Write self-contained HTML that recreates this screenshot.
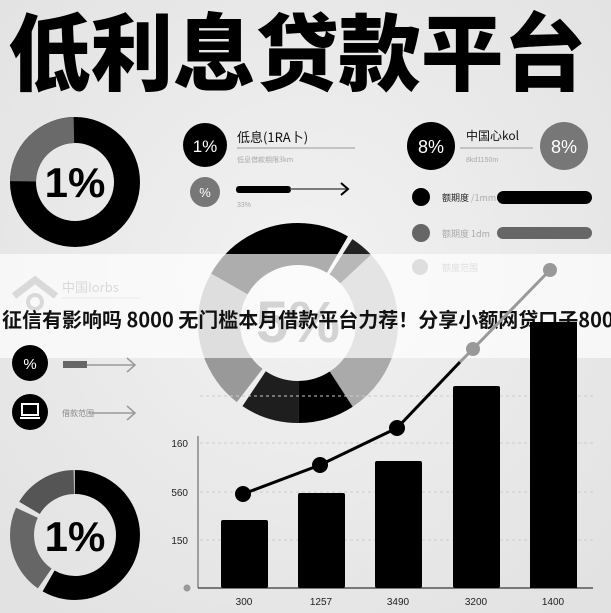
<!DOCTYPE html>
<html><head><meta charset="utf-8"><style>
html,body{margin:0;padding:0;width:611px;height:613px;overflow:hidden;background:#ebebeb}
svg{display:block}
text{font-family:"Liberation Sans","Noto Sans CJK SC",sans-serif}
.cjk{font-family:"Noto Sans CJK SC","WenQuanYi Zen Hei",sans-serif}
</style></head><body>
<svg width="611" height="613" viewBox="0 0 611 613" xmlns="http://www.w3.org/2000/svg">
<defs><radialGradient id="bg" cx="50%" cy="45%" r="70%"><stop offset="0" stop-color="#f2f2f2"/><stop offset="1" stop-color="#e2e2e2"/></radialGradient></defs>
<rect width="611" height="613" fill="url(#bg)"/>
<text x="297" y="84" text-anchor="middle" class="cjk" font-size="84" font-weight="900" fill="#000" textLength="578" lengthAdjust="spacingAndGlyphs">低利息贷款平台</text>

<!-- TL donut -->
<g transform="translate(75,182) rotate(-90)">
<circle r="52" fill="none" stroke="#000" stroke-width="26"/>
<circle r="52" fill="none" stroke="#6a6a6a" stroke-width="26" pathLength="360" stroke-dasharray="88 272" stroke-dashoffset="-271"/>
</g>
<text x="75" y="197" text-anchor="middle" font-size="42" font-weight="bold" fill="#000">1%</text>

<!-- top middle -->
<circle cx="205" cy="145" r="22" fill="#000"/>
<text x="205" y="152" text-anchor="middle" font-size="17" fill="#fff">1%</text>
<text x="237" y="142" class="cjk" font-size="13" fill="#111">低息(1RA卜)</text>
<line x1="237" y1="148" x2="355" y2="148" stroke="#999" stroke-width="1"/>
<text x="237" y="162" class="cjk" font-size="7" fill="#aaa">低息借款期限3km</text>
<circle cx="205" cy="192" r="15" fill="#777"/>
<text x="205" y="197" text-anchor="middle" font-size="13" fill="#fff">%</text>
<rect x="236" y="186" width="55" height="7" rx="3" fill="#000"/>
<line x1="290" y1="189" x2="348" y2="189" stroke="#555" stroke-width="1.5"/>
<polyline points="341,183 348,189 341,195" fill="none" stroke="#000" stroke-width="2"/>
<text x="237" y="207" font-size="7" fill="#aaa">33%</text>

<!-- top right -->
<circle cx="431" cy="146" r="24" fill="#000"/>
<text x="431" y="153" text-anchor="middle" font-size="18" fill="#fff">8%</text>
<text x="466" y="140" class="cjk" font-size="12" fill="#111">中国心kol</text>
<line x1="460" y1="148" x2="533" y2="148" stroke="#999"/>
<text x="466" y="162" font-size="7" fill="#aaa">8kd1150m</text>
<circle cx="564" cy="146" r="24" fill="#777"/>
<text x="564" y="153" text-anchor="middle" font-size="18" fill="#fff">8%</text>

<circle cx="421" cy="197" r="9" fill="#000"/>
<text x="442" y="201" class="cjk" font-size="9" fill="#222">额期度 <tspan fill="#aaa">/1mm</tspan></text>
<rect x="497" y="191" width="95" height="13" rx="6.5" fill="#000"/>
<circle cx="421" cy="233" r="9" fill="#666"/>
<text x="442" y="237" class="cjk" font-size="9" fill="#aaa">额期度 1dm</text>
<rect x="497" y="227" width="95" height="12" rx="6" fill="#666"/>
<circle cx="420" cy="267" r="8" fill="#999"/>
<text x="442" y="271" class="cjk" font-size="9" fill="#999">额度范围</text>

<!-- middle donut -->
<g transform="translate(298,323) rotate(-90)">
<circle r="79" fill="none" stroke="#000" stroke-width="42" pathLength="360" stroke-dasharray="90 270" stroke-dashoffset="60"/>
<circle r="79" fill="none" stroke="#222" stroke-width="42" pathLength="360" stroke-dasharray="14 346" stroke-dashoffset="-33"/>
<circle r="79" fill="none" stroke="#aaa" stroke-width="42" pathLength="360" stroke-dasharray="100 260" stroke-dashoffset="-47"/>
<circle r="79" fill="none" stroke="#000" stroke-width="42" pathLength="360" stroke-dasharray="33 327" stroke-dashoffset="-147"/>
<circle r="79" fill="none" stroke="#1e1e1e" stroke-width="42" pathLength="360" stroke-dasharray="34 326" stroke-dashoffset="-180"/>
<circle r="79" fill="none" stroke="#999" stroke-width="42" pathLength="360" stroke-dasharray="82 278" stroke-dashoffset="-218"/>
</g>
<text x="298" y="342" text-anchor="middle" font-size="58" font-weight="bold" fill="#777">5%</text>

<!-- left middle -->
<path d="M14 296 L35 280 L56 296" fill="none" stroke="#888" stroke-width="7"/>
<circle cx="35" cy="302" r="7" fill="none" stroke="#888" stroke-width="4"/>
<text x="62" y="292" class="cjk" font-size="13" fill="#888">中国Iorbs</text>
<line x1="62" y1="298" x2="140" y2="298" stroke="#bbb"/>

<!-- banner -->
<rect x="0" y="254" width="611" height="104" fill="#fff" fill-opacity="0.68"/>
<text x="2" y="327" class="cjk" font-size="20" font-weight="bold" fill="#111">征信有影响吗 8000 无门槛本月借款平台力荐！分享小额网贷口子800</text>

<circle cx="30" cy="363" r="18" fill="#000"/>
<text x="30" y="369" text-anchor="middle" font-size="15" fill="#fff">%</text>
<rect x="63" y="361" width="24" height="7" fill="#666"/>
<line x1="87" y1="365" x2="135" y2="365" stroke="#999" stroke-width="1.5"/>
<polyline points="127,358 135,365 127,372" fill="none" stroke="#999" stroke-width="1.5"/>
<circle cx="30" cy="412" r="18" fill="#000"/>
<rect x="22" y="404" width="16" height="11" fill="none" stroke="#fff" stroke-width="2"/>
<line x1="20" y1="418" x2="40" y2="418" stroke="#fff" stroke-width="2"/>
<text x="62" y="416" class="cjk" font-size="8" fill="#888">借款范围</text>
<line x1="92" y1="413" x2="135" y2="413" stroke="#999" stroke-width="1.5"/>
<polyline points="127,406 135,413 127,420" fill="none" stroke="#999" stroke-width="1.5"/>

<!-- bottom-left donut -->
<g transform="translate(75,535) rotate(-90)">
<circle r="53" fill="none" stroke="#000" stroke-width="24" pathLength="360" stroke-dasharray="210 150"/>
<circle r="53" fill="none" stroke="#666" stroke-width="24" pathLength="360" stroke-dasharray="80 280" stroke-dashoffset="-215"/>
<circle r="53" fill="none" stroke="#555" stroke-width="24" pathLength="360" stroke-dasharray="58 302" stroke-dashoffset="-301"/>
</g>
<text x="75" y="551" text-anchor="middle" font-size="42" font-weight="bold" fill="#000">1%</text>

<!-- bar chart -->
<g stroke="#ccc" stroke-dasharray="3 3" stroke-width="1">
<line x1="200" y1="396" x2="593" y2="396"/>
<line x1="200" y1="443" x2="593" y2="443"/>
<line x1="200" y1="492" x2="593" y2="492"/>
<line x1="200" y1="540" x2="593" y2="540"/>
</g>
<line x1="198" y1="436" x2="198" y2="588" stroke="#555" stroke-width="1"/>
<line x1="198" y1="588" x2="593" y2="588" stroke="#555" stroke-width="1.5"/>
<circle cx="187" cy="588" r="3.5" fill="#999"/>
<g font-size="10" fill="#222" text-anchor="end">
<text x="188" y="447">160</text><text x="188" y="496">560</text><text x="188" y="544">150</text>
</g>
<g fill="#000">
<rect x="221" y="520" width="47" height="68" rx="2"/>
<rect x="298" y="493" width="47" height="95" rx="2"/>
<rect x="375" y="461" width="47" height="127" rx="2"/>
<rect x="453" y="386" width="47" height="202" rx="2"/>
<rect x="530" y="322" width="47" height="266"/>
</g>
<g font-size="10" fill="#222" text-anchor="middle">
<text x="244" y="605">300</text><text x="321" y="605">1257</text><text x="398" y="605">3490</text><text x="476" y="605">3200</text><text x="553" y="605">1400</text>
</g>
<polyline points="243,494 320,465 397,428 460,362" fill="none" stroke="#000" stroke-width="3"/>
<polyline points="460,362 473,349 550,270" fill="none" stroke="#999" stroke-width="3"/>
<circle cx="243" cy="494" r="8" fill="#000"/>
<circle cx="320" cy="465" r="8" fill="#000"/>
<circle cx="397" cy="428" r="8" fill="#000"/>
<circle cx="473" cy="349" r="7" fill="#999"/>
<circle cx="550" cy="270" r="7" fill="#999"/>
</svg>
</body></html>
